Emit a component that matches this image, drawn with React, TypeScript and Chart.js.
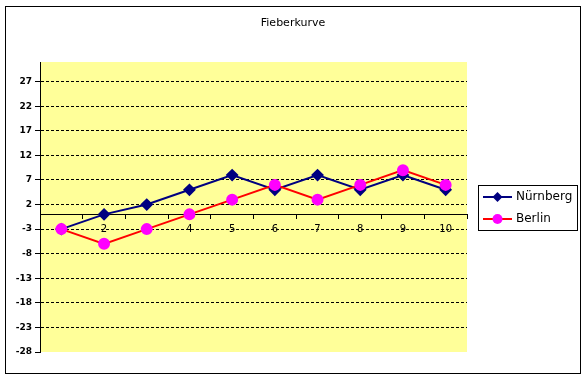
import React, { useEffect, useRef } from "react";
import { Chart, registerables } from "chart.js";
Chart.register(...registerables);

const chartTitle = "Fieberkurve";
const categories = ["1", "2", "3", "4", "5", "6", "7", "8", "9", "10"];
const seriesNames = ["Nürnberg", "Berlin"];
const nuernberg = [-3, 0, 2, 5, 8, 5, 8, 5, 8, 5];
const berlin = [-3, -6, -3, 0, 3, 6, 3, 6, 9, 6];
const yTickValues = [-28, -23, -18, -13, -8, -3, 2, 7, 12, 17, 22, 27];
const yMin = -28;
const yMax = 31;

const FONT = "'DejaVu Sans', sans-serif";

const framePlugin = {
  id: "frame",
  beforeDraw(chart: any) {
    const { ctx, chartArea, width, height } = chart;
    ctx.save();
    ctx.fillStyle = "#ffffff";
    ctx.fillRect(0, 0, width, height);
    ctx.fillStyle = "#FFFF99";
    ctx.fillRect(chartArea.left, chartArea.top, chartArea.right - chartArea.left, chartArea.bottom - chartArea.top);
    ctx.strokeStyle = "#000000";
    ctx.lineWidth = 1;
    ctx.strokeRect(5.5, 6.5, 575, 367);
    ctx.restore();
  },
  afterDraw(chart: any) {
    const { ctx } = chart;
    ctx.save();
    // title
    ctx.fillStyle = "#000000";
    ctx.font = `11px ${FONT}`;
    ctx.textAlign = "center";
    ctx.textBaseline = "middle";
    ctx.fillText(chartTitle, 293, 23);
    // legend box
    const bx = 478.5, by = 185.5, bw = 99, bh = 45;
    ctx.fillStyle = "#ffffff";
    ctx.fillRect(bx, by, bw, bh);
    ctx.strokeStyle = "#000000";
    ctx.lineWidth = 1;
    ctx.strokeRect(bx, by, bw, bh);
    const ds = chart.data.datasets;
    ds.forEach((d: any, i: number) => {
      const y = 197 + i * 22;
      ctx.strokeStyle = d.borderColor;
      ctx.lineWidth = 2;
      ctx.beginPath();
      ctx.moveTo(483, y);
      ctx.lineTo(512, y);
      ctx.stroke();
      ctx.fillStyle = d.pointBackgroundColor;
      ctx.beginPath();
      if (d.pointStyle === "rectRot") {
        const r = 5;
        ctx.moveTo(497.5 - r, y);
        ctx.lineTo(497.5, y - r);
        ctx.lineTo(497.5 + r, y);
        ctx.lineTo(497.5, y + r);
        ctx.closePath();
      } else {
        ctx.arc(497.5, y, 5, 0, Math.PI * 2);
      }
      ctx.fill();
      ctx.fillStyle = "#000000";
      ctx.font = `12px ${FONT}`;
      ctx.textAlign = "left";
      ctx.textBaseline = "middle";
      ctx.fillText(d.label, 516, y);
    });
    ctx.restore();
  },
};

export default function App() {
  const ref = useRef<HTMLCanvasElement | null>(null);
  useEffect(() => {
    if (!ref.current) return;
    const chart = new Chart(ref.current, {
      type: "line",
      data: {
        labels: categories,
        datasets: [
          {
            label: seriesNames[0],
            data: nuernberg,
            borderColor: "#000080",
            backgroundColor: "#000080",
            pointBackgroundColor: "#000080",
            pointBorderColor: "#000080",
            pointStyle: "rectRot",
            pointRadius: 5,
            borderWidth: 2,
            tension: 0,
            order: 2,
          },
          {
            label: seriesNames[1],
            data: berlin,
            borderColor: "#FF0000",
            backgroundColor: "#FF00FF",
            pointBackgroundColor: "#FF00FF",
            pointBorderColor: "#FF00FF",
            pointStyle: "circle",
            pointRadius: 5,
            borderWidth: 2,
            tension: 0,
            order: 1,
          },
        ],
      },
      options: {
        responsive: false,
        devicePixelRatio: 1,
        animation: false,
        layout: { padding: { left: 0, top: 62, right: 118, bottom: 26 } },
        plugins: { legend: { display: false }, tooltip: { enabled: false }, title: { display: false } },
        scales: {
          x: {
            type: "category",
            position: { y: 0 } as any,
            offset: true,
            grid: {
              offset: true,
              drawOnChartArea: false,
              drawTicks: true,
              tickLength: 4,
              color: "#000000",
              tickColor: "#000000",
            },
            border: { display: true, color: "#000000", width: 1 },
            ticks: {
              color: "#000000",
              font: { family: FONT, size: 10 },
              padding: 5,
              maxRotation: 0,
              autoSkip: false,
            },
          },
          y: {
            type: "linear",
            min: yMin,
            max: yMax,
            afterBuildTicks(scale: any) {
              scale.ticks = yTickValues.map((v) => ({ value: v }));
            },
            afterFit(scale: any) {
              scale.width = 40;
            },
            grid: {
              color: (c: any) => (c.tick && c.tick.value === yMin ? "rgba(0,0,0,0)" : "#000000"),
              tickColor: "#000000",
              tickLength: 5,
              lineWidth: 1,
            },
            border: { display: true, color: "#000000", width: 1, dash: [3, 2] },
            ticks: {
              color: "#000000",
              font: { family: FONT, size: 9, weight: "bold" },
              padding: 3,
              callback: (v: any) => String(v),
            },
          },
        },
      },
      plugins: [framePlugin],
    });
    return () => chart.destroy();
  }, []);
  return (
    <div style={{ position: "fixed", left: 0, top: 0, width: 585, height: 378 }}>
      <canvas ref={ref} width={585} height={378} style={{ display: "block", width: 585, height: 378 }} />
    </div>
  );
}
